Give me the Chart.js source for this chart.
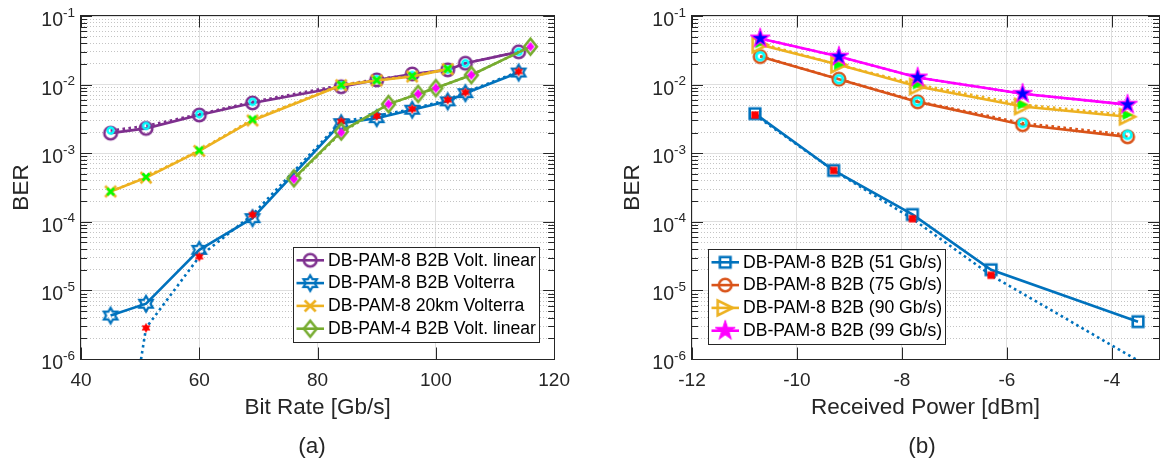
<!DOCTYPE html>
<html>
<head>
<meta charset="utf-8">
<title>BER curves</title>
<script src="https://cdn.jsdelivr.net/npm/chart.js@4.4.1/dist/chart.umd.min.js"></script>
<style>
  html, body { margin: 0; padding: 0; background: #fff; }
  body { position: relative; width: 1162px; height: 459px; overflow: hidden;
         font-family: "Liberation Sans", Arial, Helvetica, sans-serif; }
  canvas { position: absolute; top: 0; }
  #chartA { left: 0; }
  #chartB { left: 611px; }
  .tag { position: absolute; top: 435px; width: 100px; text-align: center;
         font-size: 22.5px; line-height: 22.5px; color: #262626; }
</style>
</head>
<body>
<canvas id="chartA" width="580" height="459"></canvas>
<canvas id="chartB" width="551" height="459"></canvas>
<div class="tag" style="left:262px">(a)</div>
<div class="tag" style="left:872px">(b)</div>
<script>
// ---- panel (a): BER vs bit rate ----
const rateA      = [45, 51, 60, 69, 84, 90, 96, 102, 105, 114];
const berLinA    = [1.96e-3, 2.3e-3, 3.6e-3, 5.4e-3, 9.3e-3, 1.17e-2, 1.43e-2, 1.64e-2, 2.05e-2, 3.0e-2];
const berLinADot = [2.14e-3, 2.5e-3, 3.7e-3, 5.6e-3, 9.8e-3, 1.2e-2, 1.38e-2, 1.66e-2, 2.05e-2, 3.0e-2];
const berVolA    = [4.3e-6, 6.4e-6, 3.9e-5, 1.13e-4, 2.74e-3, 3.24e-3, 4.3e-3, 5.7e-3, 7.5e-3, 1.5e-2];
const berVolADot = [1.7e-9, 2.84e-6, 3.1e-5, 1.27e-4, 2.9e-3, 3.5e-3, 4.4e-3, 6.0e-3, 7.7e-3, 1.55e-2];
const rate20     = [45, 51, 60, 69, 84, 90, 96, 102];
const ber20      = [2.77e-4, 4.4e-4, 1.08e-3, 3.0e-3, 9.8e-3, 1.15e-2, 1.31e-2, 1.68e-2];
const ber20Dot   = [2.75e-4, 4.5e-4, 1.1e-3, 3.1e-3, 9.9e-3, 1.16e-2, 1.33e-2, 1.7e-2];
const rate4      = [76, 84, 92, 97, 100, 106, 116];
const ber4       = [4.3e-4, 2.07e-3, 5.2e-3, 7.3e-3, 8.9e-3, 1.38e-2, 3.57e-2];
const ber4Dot    = [4.2e-4, 2.0e-3, 5.2e-3, 7.3e-3, 8.9e-3, 1.38e-2, 3.57e-2];
const namesA = ['DB-PAM-8 B2B Volt. linear', 'DB-PAM-8 B2B Volterra',
                'DB-PAM-8 20km Volterra', 'DB-PAM-4 B2B Volt. linear'];
const xTicksA = [40, 60, 80, 100, 120];

// ---- panel (b): BER vs received power ----
const pw51   = [-10.8, -9.3, -7.8, -6.3, -3.5];
const ber51  = [3.77e-3, 5.6e-4, 1.28e-4, 2.0e-5, 3.5e-6];
const ber51Dot = [3.6e-3, 5.6e-4, 1.11e-4, 1.66e-5, 9.5e-7];
const pw     = [-10.7, -9.2, -7.7, -5.7, -3.7];
const ber75  = [2.56e-2, 1.2e-2, 5.6e-3, 2.6e-3, 1.73e-3];
const ber75Dot = [2.6e-2, 1.2e-2, 5.7e-3, 2.75e-3, 1.85e-3];
const ber90  = [3.8e-2, 1.94e-2, 9.4e-3, 4.8e-3, 3.4e-3];
const ber90Dot = [4.0e-2, 1.94e-2, 1.0e-2, 5.1e-3, 3.6e-3];
const ber99  = [4.7e-2, 2.56e-2, 1.27e-2, 7.35e-3, 5.1e-3];
const ber99Dot = [4.7e-2, 2.56e-2, 1.27e-2, 7.35e-3, 5.1e-3];
const namesB = ['DB-PAM-8 B2B (51 Gb/s)', 'DB-PAM-8 B2B (75 Gb/s)',
                'DB-PAM-8 B2B (90 Gb/s)', 'DB-PAM-8 B2B (99 Gb/s)'];
const xTicksB = [-12, -10, -8, -6, -4];

const yDecades = [-6, -5, -4, -3, -2, -1];

const FONT = '"Liberation Sans", Arial, Helvetica, sans-serif';
const INK = '#262626';
const GRID = '#dfdfdf';
const MINOR = '#c4c4c4';
const PURPLE = '#7E2F8E', BLUE = '#0072BD', YELLOW = '#EDB120',
      GREEN = '#77AC30', ORANGE = '#D95319', MAGENTA = '#FF00FF';

Chart.defaults.font.family = FONT;

// marker glyphs, drawn once into small canvases and used as pointStyle
function mark(shape, r, edge, face, lw) {
  const s = Math.ceil(2 * r + lw + 4);
  const c = document.createElement('canvas');
  c.width = c.height = s;
  const g = c.getContext('2d');
  g.translate(s / 2, s / 2);
  g.lineWidth = lw;
  g.lineJoin = 'miter';
  g.beginPath();
  if (shape === 'o') {
    g.arc(0, 0, r, 0, Math.PI * 2);
  } else if (shape === 's') {
    g.rect(-r, -r, 2 * r, 2 * r);
  } else if (shape === 'd') {
    g.moveTo(0, -r); g.lineTo(r * 0.8, 0); g.lineTo(0, r); g.lineTo(-r * 0.8, 0); g.closePath();
  } else if (shape === 'x') {
    g.moveTo(-r, -r); g.lineTo(r, r); g.moveTo(r, -r); g.lineTo(-r, r);
  } else if (shape === '>') {
    g.moveTo(r, 0); g.lineTo(-r, -r); g.lineTo(-r, r); g.closePath();
  } else { // 'h' hexagram, 'p' pentagram
    const n = shape === 'h' ? 6 : 5;
    const inner = shape === 'h' ? r / Math.sqrt(3) : r * 0.382;
    for (let i = 0; i < 2 * n; i++) {
      const a = -Math.PI / 2 + i * Math.PI / n;
      const rr = i % 2 ? inner : r;
      g.lineTo(Math.cos(a) * rr, Math.sin(a) * rr);
    }
    g.closePath();
  }
  if (face) { g.fillStyle = face; g.fill(); }
  if (edge) { g.strokeStyle = edge; g.stroke(); }
  return c;
}

const mkA = {
  lin: mark('o', 6.3, PURPLE, null, 2.6),
  linDot: mark('o', 3, '#00FFFF', null, 2.4),
  vol: mark('h', 7.8, BLUE, null, 2.2),
  volDot: mark('h', 4.6, '#FF0000', '#FF0000', 0.5),
  km: mark('x', 5.5, YELLOW, null, 2.6),
  kmDot: mark('x', 3.5, '#00FF00', null, 2.6),
  p4: mark('d', 8, GREEN, null, 2.6),
  p4Dot: mark('d', 4.6, MAGENTA, MAGENTA, 0.5)
};
const mkB = {
  s51: mark('s', 5.3, BLUE, null, 2.6),
  s51Dot: mark('s', 3.4, '#FF0000', '#FF0000', 0.5),
  s75: mark('o', 6.3, ORANGE, null, 2.6),
  s75Dot: mark('o', 3.9, '#00FFFF', null, 2.8),
  s90: mark('>', 7.5, YELLOW, null, 2.6),
  s90Dot: mark('>', 4.6, '#00FF00', '#00FF00', 0.5),
  s99: mark('p', 10.5, MAGENTA, MAGENTA, 1),
  s99Dot: mark('p', 7.2, '#0000FF', '#0000FF', 0.5)
};

const pts = (xs, ys) => xs.map((x, i) => ({x: x, y: ys[i]}));

function line(xs, ys, color, glyph, dotted) {
  return {
    data: pts(xs, ys),
    borderColor: color,
    borderWidth: 2.6,
    borderDash: dotted ? [2.6, 3.4] : [],
    pointStyle: glyph,
    pointRadius: 1,
    pointHoverRadius: 1,
    pointBorderWidth: 0,
    tension: 0,
    fill: false,
    clip: 0
  };
}

function stack(list) {
  // later series are drawn on top, as in the original plot
  list.forEach((d, i) => { d.order = list.length - i; });
  return list;
}

const dataA = stack([
  line(rateA, berLinA, PURPLE, mkA.lin, false),
  line(rateA, berLinADot, PURPLE, mkA.linDot, true),
  line(rateA, berVolA, BLUE, mkA.vol, false),
  line(rateA, berVolADot, BLUE, mkA.volDot, true),
  line(rate20, ber20, YELLOW, mkA.km, false),
  line(rate20, ber20Dot, YELLOW, mkA.kmDot, true),
  line(rate4, ber4, GREEN, mkA.p4, false),
  line(rate4, ber4Dot, GREEN, mkA.p4Dot, true)
]);
const dataB = stack([
  line(pw51, ber51, BLUE, mkB.s51, false),
  line(pw51, ber51Dot, BLUE, mkB.s51Dot, true),
  line(pw, ber75, ORANGE, mkB.s75, false),
  line(pw, ber75Dot, ORANGE, mkB.s75Dot, true),
  line(pw, ber90, YELLOW, mkB.s90, false),
  line(pw, ber90Dot, YELLOW, mkB.s90Dot, true),
  line(pw, ber99, MAGENTA, mkB.s99, false),
  line(pw, ber99Dot, MAGENTA, mkB.s99Dot, true)
]);

const yGrid = [];
yDecades.forEach(e => {
  if (e === -1) { yGrid.push(0.1); return; }
  for (let m = 1; m <= 9; m++) yGrid.push(m * Math.pow(10, e));
});
const isDecade = v => Math.abs(Math.log10(v) - Math.round(Math.log10(v))) < 1e-9;

// MATLAB-like box, inward ticks, 10^n labels and boxed legend
function matlabAxes(legend) {
  return {
    id: 'matlabAxes',
    beforeDatasetsDraw(chart) {
      const {ctx, chartArea: a, scales: {x, y}} = chart;
      ctx.save();
      ctx.strokeStyle = INK;
      ctx.lineWidth = 1;
      ctx.beginPath();
      x.ticks.forEach(t => {
        const px = Math.round(x.getPixelForValue(t.value)) + 0.5;
        ctx.moveTo(px, a.bottom); ctx.lineTo(px, a.bottom - 11.5);
        ctx.moveTo(px, a.top); ctx.lineTo(px, a.top + 11.5);
      });
      y.ticks.forEach(t => {
        const len = isDecade(t.value) ? 11 : 6;
        const py = Math.round(y.getPixelForValue(t.value)) + 0.5;
        ctx.moveTo(a.left, py); ctx.lineTo(a.left + len, py);
        ctx.moveTo(a.right, py); ctx.lineTo(a.right - len, py);
      });
      ctx.stroke();
      ctx.strokeRect(Math.round(a.left) - 0.5, Math.round(a.top) - 0.5,
                     Math.round(a.right - a.left) + 1, Math.round(a.bottom - a.top) + 1);
      ctx.restore();
    },
    afterDraw(chart) {
      const {ctx, chartArea: a, scales: {y}} = chart;
      ctx.save();
      ctx.fillStyle = INK;
      ctx.textAlign = 'left';
      ctx.textBaseline = 'alphabetic';
      y.ticks.filter(t => isDecade(t.value)).forEach(t => {
        const py = y.getPixelForValue(t.value);
        const e = String(Math.round(Math.log10(t.value)));
        ctx.font = '13.5px ' + FONT;
        const we = ctx.measureText(e).width;
        ctx.font = '19.5px ' + FONT;
        const wb = ctx.measureText('10').width;
        const xr = a.left - 6;
        ctx.fillText('10', xr - we - wb, py + 10);
        ctx.font = '13.5px ' + FONT;
        ctx.fillText(e, xr - we, py + 0.5);
      });

      // legend
      ctx.font = '17.6px ' + FONT;
      const tw = Math.max(...legend.items.map(it => ctx.measureText(it.label).width));
      const bw = Math.round(35 + tw + 3), bh = 95, rowH = 22.8;
      const bx = Math.round(legend.side === 'right' ? a.right - legend.dx - bw : a.left + legend.dx);
      const by = Math.round(a.bottom - legend.dy);
      ctx.fillStyle = '#fff';
      ctx.fillRect(bx, by, bw, bh);
      ctx.strokeStyle = INK;
      ctx.lineWidth = 1;
      ctx.strokeRect(bx + 0.5, by + 0.5, bw, bh);
      legend.items.forEach((it, i) => {
        const cy = by + (bh - 3 * rowH) / 2 + i * rowH;
        ctx.strokeStyle = it.color;
        ctx.lineWidth = 2.6;
        ctx.beginPath();
        ctx.moveTo(bx + 3.5, cy); ctx.lineTo(bx + 31, cy);
        ctx.stroke();
        ctx.drawImage(it.glyph, bx + 17.2 - it.glyph.width / 2, cy - it.glyph.height / 2);
        ctx.fillStyle = '#000';
        ctx.textBaseline = 'middle';
        ctx.fillText(it.label, bx + 35, cy + 0.5);
      });
      ctx.restore();
    }
  };
}

function makeChart(id, datasets, xMin, xMax, xTicks, xTitle, padRight, legend) {
  return new Chart(document.getElementById(id), {
    type: 'line',
    data: {datasets: datasets},
    options: {
      responsive: false,
      animation: false,
      devicePixelRatio: 1,
      events: [],
      layout: {padding: {left: 0, top: 16, right: padRight, bottom: 0}},
      plugins: {legend: {display: false}, tooltip: {enabled: false}},
      scales: {
        x: {
          type: 'linear', min: xMin, max: xMax,
          afterBuildTicks: s => { s.ticks = xTicks.map(v => ({value: v})); },
          afterFit: s => { s.height = 100; },
          grid: {color: GRID, lineWidth: 1, drawTicks: false},
          border: {display: false},
          ticks: {font: {size: 19}, color: INK, padding: 10, maxRotation: 0},
          title: {display: true, text: xTitle, color: INK, font: {size: 22.5},
                  padding: {top: 0, bottom: 37.5}}
        },
        y: {
          type: 'logarithmic', min: 1e-6, max: 1e-1,
          afterBuildTicks: s => { s.ticks = yGrid.map(v => ({value: v})); },
          afterFit: s => { s.width = 81; },
          grid: {
            color: c => (c.tick && !isDecade(c.tick.value)) ? MINOR : GRID,
            lineWidth: 1, drawTicks: false
          },
          border: {
            display: false,
            dash: c => (c.tick && !isDecade(c.tick.value)) ? [1, 2] : []
          },
          ticks: {display: false},
          title: {display: true, text: 'BER', color: INK, font: {size: 22.5},
                  padding: {top: 8.5, bottom: 0}}
        }
      }
    },
    plugins: [matlabAxes(legend)]
  });
}

const colorsA = [PURPLE, BLUE, YELLOW, GREEN];
const glyphsA = [mkA.lin, mkA.vol, mkA.km, mkA.p4];
const colorsB = [BLUE, ORANGE, YELLOW, MAGENTA];
const glyphsB = [mkB.s51, mkB.s75, mkB.s90, mkB.s99];

makeChart('chartA', dataA, 40, 120, xTicksA, 'Bit Rate [Gb/s]', 25, {
  side: 'right', dx: 15, dy: 112,
  items: namesA.map((n, i) => ({label: n, color: colorsA[i], glyph: glyphsA[i]}))
});
makeChart('chartB', dataB, -12, -3.1, xTicksB, 'Received Power [dBm]', 3, {
  side: 'left', dx: 16, dy: 110,
  items: namesB.map((n, i) => ({label: n, color: colorsB[i], glyph: glyphsB[i]}))
});
</script>
</body>
</html>
